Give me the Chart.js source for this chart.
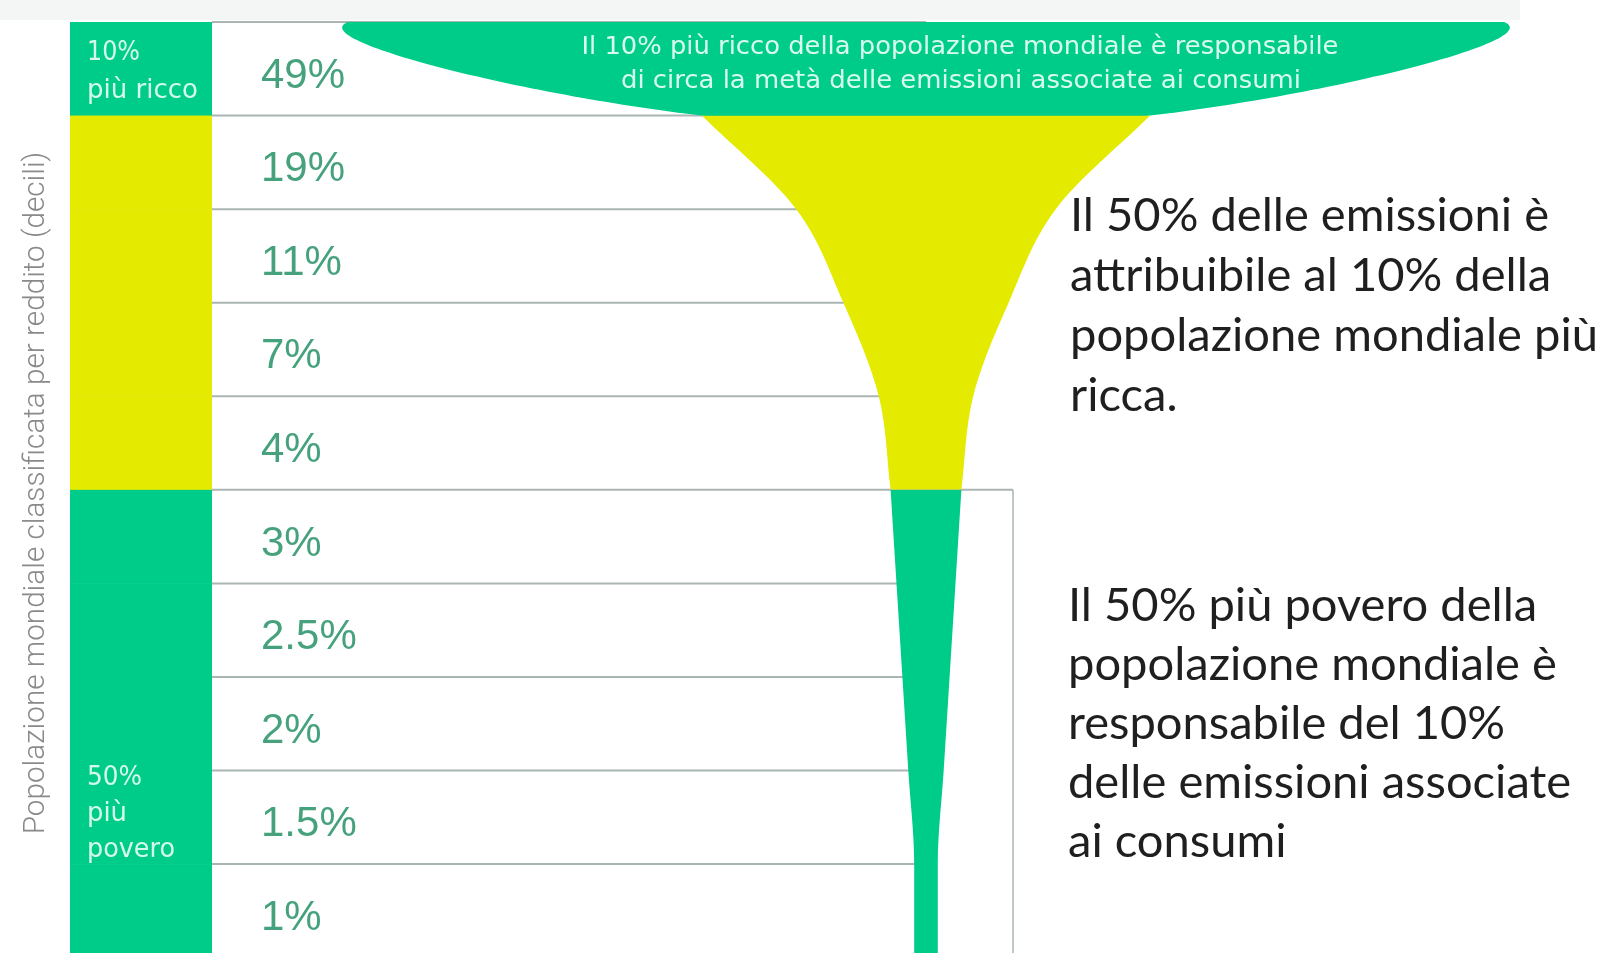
<!DOCTYPE html>
<html lang="it">
<head>
<meta charset="utf-8">
<title>Emissioni associate ai consumi per decile di reddito</title>
<script src="https://cdn.jsdelivr.net/npm/chart.js@4/dist/chart.umd.min.js"></script>
<style>
  html, body { margin: 0; padding: 0; background: #ffffff; }
  #wrap { position: relative; width: 1607px; height: 953px; overflow: hidden; }
  canvas { display: block; }
</style>
</head>
<body>
<div id="wrap"><canvas id="chart" width="1607" height="953"></canvas></div>
<script>
// World population ranked by income, richest decile first
const deciles = ['10° decile', '9° decile', '8° decile', '7° decile', '6° decile',
                 '5° decile', '4° decile', '3° decile', '2° decile', '1° decile'];
// Share of consumption-related emissions of each decile (%)
const emissionShare = [49, 19, 11, 7, 4, 3, 2.5, 2, 1.5, 1];
// Income group each decile belongs to
const incomeGroup = ['top10', 'middle40', 'middle40', 'middle40', 'middle40',
                     'bottom50', 'bottom50', 'bottom50', 'bottom50', 'bottom50'];
const groupOrder = ['top10', 'middle40', 'bottom50'];
const groupLabels = {
  top10: ['10%', 'più ricco'],
  middle40: [],
  bottom50: ['50%', 'più', 'povero']
};
const axisTitle = 'Popolazione mondiale classificata per reddito (decili)';
const glassCaption = ['Il 10% più ricco della popolazione mondiale è responsabile',
                      'di circa la metà delle emissioni associate ai consumi'];
const noteRich = ['Il 50% delle emissioni è', 'attribuibile al 10% della',
                  'popolazione mondiale più', 'ricca.'];
const notePoor = ['Il 50% più povero della', 'popolazione mondiale è',
                  'responsabile del 10%', 'delle emissioni associate', 'ai consumi'];

// ---- styling ----
const GREEN = '#00cc8a';
const YELLOW = '#e4ea00';
const groupColor = { top10: GREEN, middle40: YELLOW, bottom50: GREEN };
const BAND_L = 70, BAND_R = 212, TABLE_R = 1013, VALUE_X = 261, NOTE_X = 1070;
const RULE = '#aab6b4';
const CONDENSED = '"DejaVu Sans Condensed", "Liberation Sans Narrow", "DejaVu Sans", sans-serif';

// First and one-past-last decile index of a group
function groupRange(g) {
  return [incomeGroup.indexOf(g), incomeGroup.lastIndexOf(g) + 1];
}

// Half-width of the glass at the top of decile row b: that decile's share
// (the bottom edge of the last row keeps the last share).
function halfWidth(b) {
  return emissionShare[Math.min(b, emissionShare.length - 1)];
}

function edge(from, to, side) {
  const pts = [];
  for (let b = from; b <= to; b++) pts.push({ x: side * halfWidth(b), y: b });
  return pts;
}

const common = {
  showLine: true,
  borderColor: 'rgba(0,0,0,0)',
  borderWidth: 0,
  pointRadius: 0,
  pointHoverRadius: 0
};

const datasets = [];
groupOrder.forEach((g, k) => {
  const [from, to] = groupRange(g);
  const order = groupOrder.length - k;
  if (from === 0) {
    // the bowl: open rim on top, closed through the glass axis
    const left = edge(from, to, -1);
    const right = edge(from, to, 1).reverse();
    datasets.push(Object.assign({}, common, {
      label: g,
      data: [{ x: 0, y: 0 }, ...left, ...right, { x: 0, y: 0 }],
      fill: 'shape',
      tension: 0.5,
      backgroundColor: groupColor[g],
      order
    }));
  } else {
    [-1, 1].forEach(side => {
      datasets.push(Object.assign({}, common, {
        label: g + (side < 0 ? ' sx' : ' dx'),
        data: edge(from, to, side),
        fill: { value: 0 },
        cubicInterpolationMode: 'monotone',
        backgroundColor: groupColor[g],
        order
      }));
    });
  }
});

function drawText(ctx, str, x, y, font, color, align, width) {
  ctx.save();
  ctx.font = font;
  ctx.fillStyle = color;
  ctx.textAlign = align || 'left';
  ctx.textBaseline = 'alphabetic';
  ctx.translate(x, y);
  if (width) {
    const w = ctx.measureText(str).width;
    ctx.scale(width / w, 1);
  }
  ctx.fillText(str, 0, 0);
  ctx.restore();
}

function fitSize(ctx, family, weight, str, width) {
  ctx.save();
  ctx.font = weight + ' 100px ' + family;
  const w = ctx.measureText(str).width;
  ctx.restore();
  return 100 * width / w;
}

const tablePlugin = {
  id: 'decileTable',
  beforeDraw(chart) {
    const { ctx } = chart;
    ctx.save();
    ctx.fillStyle = '#ffffff';
    ctx.fillRect(0, 0, chart.width, chart.height);
    ctx.fillStyle = '#f4f5f5';
    ctx.fillRect(0, 0, 1520, 20);
    ctx.restore();
  },
  beforeDatasetsDraw(chart) {
    const { ctx, scales: { x, y } } = chart;
    const axisX = x.getPixelForValue(0);
    ctx.save();
    // coloured income-group band
    deciles.forEach((d, i) => {
      const top = y.getPixelForValue(i), bottom = y.getPixelForValue(i + 1);
      ctx.fillStyle = groupColor[incomeGroup[i]];
      ctx.fillRect(BAND_L, top, BAND_R - BAND_L, bottom - top + 0.5);
    });
    // row rules
    const [poorStart] = groupRange('bottom50');
    ctx.strokeStyle = RULE;
    ctx.lineWidth = 2;
    for (let i = 0; i < deciles.length; i++) {
      const yy = y.getPixelForValue(i);
      ctx.beginPath();
      ctx.moveTo(BAND_R, yy);
      ctx.lineTo(i === poorStart ? TABLE_R : axisX, yy);
      ctx.stroke();
    }
    ctx.lineWidth = 1.5;
    ctx.beginPath();
    ctx.moveTo(TABLE_R, y.getPixelForValue(poorStart));
    ctx.lineTo(TABLE_R, chart.height);
    ctx.stroke();
    ctx.restore();
  },
  afterDatasetsDraw(chart) {
    const { ctx, scales: { y } } = chart;

    // value labels
    emissionShare.forEach((v, i) => {
      const mid = (y.getPixelForValue(i) + y.getPixelForValue(i + 1)) / 2;
      drawText(ctx, v + '%', VALUE_X, mid + 19, '42px "Liberation Sans", Arial, sans-serif',
               '#46a27c', 'left');
    });

    // group labels inside the band
    const bandFont = '26px ' + CONDENSED;
    const bandInk = 'rgba(236,255,244,0.9)';
    const richTop = y.getPixelForValue(groupRange('top10')[0]);
    groupLabels.top10.forEach((s, j) =>
      drawText(ctx, s, BAND_L + 17, richTop + 38 + 38 * j, bandFont, bandInk, 'left', [53, 111][j]));
    const poorBottom = y.getPixelForValue(groupRange('bottom50')[1]);
    groupLabels.bottom50.forEach((s, j) =>
      drawText(ctx, s, BAND_L + 17, poorBottom - 173 + 36 * j, bandFont, bandInk, 'left', [55, 40, 88][j]));

    // caption inside the bowl
    const capFont = '25px ' + CONDENSED;
    drawText(ctx, glassCaption[0], 960, 54, capFont, 'rgba(236,255,246,0.92)', 'center', 757);
    drawText(ctx, glassCaption[1], 961, 88, capFont, 'rgba(236,255,246,0.92)', 'center', 680);

    // side notes
    const noteFamily = 'Lato, "Open Sans", sans-serif';
    const size = fitSize(ctx, noteFamily, '400', noteRich[2], 528);
    const noteFont = '400 ' + size.toFixed(1) + 'px ' + noteFamily;
    [231, 291, 351, 411].forEach((b, j) => drawText(ctx, noteRich[j], NOTE_X, b, noteFont, '#1f1f1f', 'left'));
    [621, 680, 739, 798, 857].forEach((b, j) => drawText(ctx, notePoor[j], NOTE_X - 2, b, noteFont, '#1f1f1f', 'left'));

    // vertical axis title
    const tFamily = 'Roboto, "Open Sans", sans-serif';
    const tSize = fitSize(ctx, tFamily, '300', axisTitle, 683);
    ctx.save();
    ctx.translate(37, 493);
    ctx.rotate(-Math.PI / 2);
    ctx.font = '300 ' + tSize.toFixed(1) + 'px ' + tFamily;
    ctx.fillStyle = '#8a8a8a';
    ctx.textAlign = 'center';
    ctx.textBaseline = 'middle';
    ctx.fillText(axisTitle, 0, 0);
    ctx.restore();
  }
};

new Chart(document.getElementById('chart'), {
  type: 'line',
  data: { datasets },
  options: {
    indexAxis: 'y',
    responsive: false,
    animation: false,
    devicePixelRatio: 1,
    layout: { padding: { top: 22, left: 0, right: 0, bottom: 0 } },
    plugins: { legend: { display: false }, tooltip: { enabled: false } },
    events: [],
    scales: {
      x: { type: 'linear', min: -78.47, max: 57.71, display: false },
      y: { type: 'linear', min: 0, max: 9.95, reverse: true, display: false }
    }
  },
  plugins: [tablePlugin]
});
</script>
</body>
</html>
